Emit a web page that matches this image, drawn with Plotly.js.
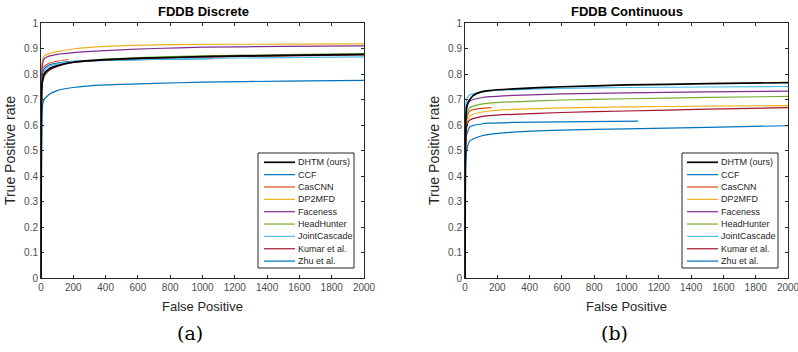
<!DOCTYPE html>
<html><head><meta charset="utf-8">
<script src="https://cdn.plot.ly/plotly-3.0.1.min.js"></script>
<style>html,body{margin:0;padding:0;background:#fff}#c{width:798px;height:352px}</style>
</head><body><div id="c"></div>
<script>
const methods = ["DHTM (ours)","CCF","CasCNN","DP2MFD","Faceness","HeadHunter","JointCascade","Kumar et al.","Zhu et al."];
const colors = ["#000000","#0072BD","#D95319","#EDB120","#7E2F8E","#77AC30","#4DBEEE","#A2142F","#0072BD"];

// Discrete
const d_fp_full = [0,2,5,10,20,50,100,200,400,700,1000,1500,2000];
const d_fp_ccf = [0,2,5,10,20,50,100,200,400,700,1067];
const d_fp_cascnn = [0,2,5,10,20,50,100,170];
const d_dhtm = [0,0.62,0.75,0.78,0.80,0.82,0.833,0.846,0.856,0.863,0.868,0.873,0.877];
const d_ccf = [0,0.65,0.77,0.80,0.82,0.835,0.843,0.85,0.853,0.857,0.86];
const d_cascnn = [0,0.70,0.80,0.82,0.83,0.842,0.85,0.857];
const d_dp2mfd = [0,0.75,0.84,0.86,0.87,0.88,0.888,0.898,0.908,0.914,0.916,0.917,0.918];
const d_faceness = [0,0.70,0.80,0.84,0.86,0.87,0.877,0.884,0.892,0.9,0.905,0.908,0.91];
const d_headhunter = [0,0.60,0.74,0.77,0.79,0.815,0.83,0.846,0.858,0.866,0.871,0.876,0.88];
const d_jointcascade = [0,0.65,0.76,0.79,0.81,0.83,0.84,0.848,0.853,0.857,0.861,0.864,0.867];
const d_kumar = [0,0.60,0.74,0.77,0.795,0.815,0.83,0.845,0.855,0.862,0.867,0.871,0.875];
const d_zhu = [0,0.30,0.55,0.68,0.70,0.72,0.735,0.747,0.757,0.763,0.768,0.772,0.775];

// Continuous
const c_fp_full = [0,2,5,10,20,30,50,100,150,300,600,1000,1500,2000];
const c_fp_ccf = [0,2,5,10,20,30,50,100,150,300,600,1073];
const c_fp_cascnn = [0,2,5,10,20,30,50,100,165];
const c_dhtm = [0,0.45,0.62,0.67,0.69,0.70,0.715,0.73,0.735,0.742,0.75,0.757,0.762,0.766];
const c_ccf = [0,0.40,0.52,0.56,0.58,0.593,0.598,0.604,0.607,0.61,0.612,0.615];
const c_cascnn = [0,0.45,0.58,0.62,0.645,0.655,0.66,0.665,0.668];
const c_dp2mfd = [0,0.43,0.56,0.60,0.625,0.635,0.642,0.65,0.655,0.661,0.667,0.671,0.674,0.676];
const c_faceness = [0,0.48,0.62,0.66,0.685,0.693,0.70,0.707,0.711,0.716,0.722,0.726,0.73,0.733];
const c_headhunter = [0,0.45,0.59,0.63,0.66,0.668,0.674,0.682,0.686,0.691,0.698,0.703,0.708,0.712];
const c_jointcascade = [0,0.55,0.68,0.70,0.712,0.718,0.722,0.73,0.734,0.738,0.744,0.747,0.749,0.751];
const c_kumar = [0,0.42,0.55,0.59,0.612,0.62,0.625,0.633,0.637,0.642,0.649,0.655,0.662,0.668];
const c_zhu = [0,0.30,0.45,0.50,0.525,0.538,0.545,0.557,0.563,0.572,0.58,0.585,0.591,0.597];

const dSeries = [[d_fp_full,d_dhtm],[d_fp_ccf,d_ccf],[d_fp_cascnn,d_cascnn],[d_fp_full,d_dp2mfd],[d_fp_full,d_faceness],[d_fp_full,d_headhunter],[d_fp_full,d_jointcascade],[d_fp_full,d_kumar],[d_fp_full,d_zhu]];
const cSeries = [[c_fp_full,c_dhtm],[c_fp_ccf,c_ccf],[c_fp_cascnn,c_cascnn],[c_fp_full,c_dp2mfd],[c_fp_full,c_faceness],[c_fp_full,c_headhunter],[c_fp_full,c_jointcascade],[c_fp_full,c_kumar],[c_fp_full,c_zhu]];

const W = 798, H = 352;
const traces = [];
function add(series, xa, ya) {
  const order = [1,2,3,4,5,6,7,8,0];
  order.forEach(i => {
    traces.push({
      x: series[i][0], y: series[i][1], xaxis: xa, yaxis: ya, showlegend: false,
      type: 'scatter', mode: 'lines', name: methods[i],
      line: {color: colors[i], width: i===0 ? 1.7 : 1.2, shape: 'spline', smoothing: 0.6}
    });
  });
}
add(dSeries, 'x', 'y');
add(cSeries, 'x2', 'y2');

const sans = 'Liberation Sans, Arial, sans-serif';
const axFont = {family: sans, size: 10, color: '#4d4d4d'};
function xax(dom, anchor) {
  return {domain: dom, anchor: anchor, range: [0,2000], dtick: 200, tick0: 0, showgrid: false, zeroline: false,
    showline: true, mirror: 'ticks', linecolor: '#262626', linewidth: 1, ticks: 'inside', ticklen: 3, tickcolor: '#262626',
    ticklabeloverflow: 'allow',
    tickfont: axFont, title: {text: 'False Positive', font: {family: sans, size: 13, color: '#262626'}, standoff: 9}};
}
function yax(dom, anchor) {
  return {domain: dom, anchor: anchor, range: [0,1], dtick: 0.1, tick0: 0, showgrid: false, zeroline: false,
    showline: true, mirror: 'ticks', linecolor: '#262626', linewidth: 1, ticks: 'inside', ticklen: 3, tickcolor: '#262626',
    tickfont: axFont, title: {text: 'True Positive rate', font: {family: sans, size: 14, color: '#262626'}, standoff: 5}};
}
const yd = [(H-278)/H, (H-23)/H];

// hand-built legends (compact, like MATLAB)
const shapes = [], annotations = [];
function legend(boxL, boxR, boxT, boxB, lineL, lineR, textL, firstY, step) {
  shapes.push({type: 'rect', xref: 'paper', yref: 'paper', x0: boxL/W, x1: boxR/W, y0: 1-boxB/H, y1: 1-boxT/H,
    line: {color: '#262626', width: 1}, fillcolor: '#fff', layer: 'above'});
  methods.forEach((m, i) => {
    const yy = 1 - (firstY + i*step)/H;
    shapes.push({type: 'line', xref: 'paper', yref: 'paper', x0: lineL/W, x1: lineR/W, y0: yy, y1: yy,
      line: {color: colors[i], width: i===0 ? 1.7 : 1.2}, layer: 'above'});
    annotations.push({text: m, x: textL/W, y: yy, xref: 'paper', yref: 'paper', xanchor: 'left', yanchor: 'middle',
      showarrow: false, font: {family: sans, size: 9, color: '#262626'}});
  });
}
legend(258, 354, 153, 268, 264, 295, 296, 162.3, 12.35);
legend(682, 778, 153, 268, 687, 718, 719, 162.3, 12.35);

annotations.push(
  {text: '<b>FDDB Discrete</b>', x: 203/W, y: 1-11/H, xref: 'paper', yref: 'paper', xanchor: 'center', yanchor: 'middle', showarrow: false, font: {family: sans, size: 13, color: '#000'}},
  {text: '<b>FDDB Continuous</b>', x: 627/W, y: 1-11/H, xref: 'paper', yref: 'paper', xanchor: 'center', yanchor: 'middle', showarrow: false, font: {family: sans, size: 13, color: '#000'}},
  {text: '(a)', x: 190/W, y: 1-333/H, xref: 'paper', yref: 'paper', xanchor: 'center', yanchor: 'middle', showarrow: false, font: {family: 'DejaVu Serif, Liberation Serif, serif', size: 19, color: '#000'}},
  {text: '(b)', x: 614/W, y: 1-333/H, xref: 'paper', yref: 'paper', xanchor: 'center', yanchor: 'middle', showarrow: false, font: {family: 'DejaVu Serif, Liberation Serif, serif', size: 19, color: '#000'}}
);

const layout = {
  width: W, height: H, margin: {l:0, r:0, t:0, b:0}, paper_bgcolor: '#fff', plot_bgcolor: '#fff',
  showlegend: false,
  xaxis: xax([41/W, 364/W], 'y'),
  yaxis: yax(yd, 'x'),
  xaxis2: xax([465/W, 788/W], 'y2'),
  yaxis2: yax(yd, 'x2'),
  shapes: shapes,
  annotations: annotations
};
Plotly.newPlot('c', traces, layout, {displayModeBar: false, staticPlot: true});
</script></body></html>
